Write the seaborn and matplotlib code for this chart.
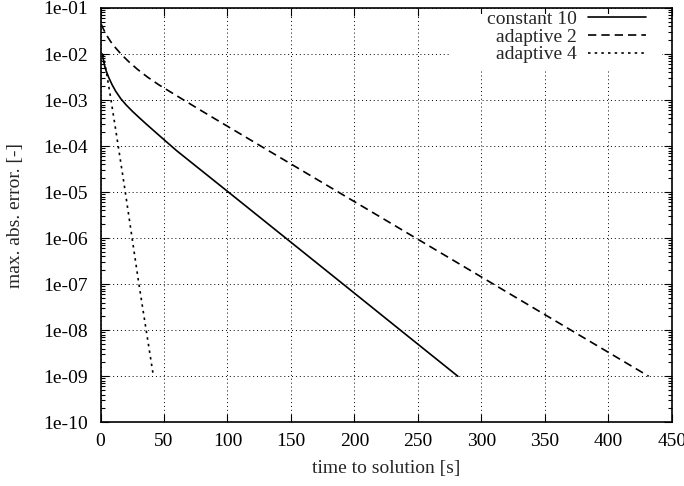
import numpy as np
import pandas as pd
import matplotlib
matplotlib.use("Agg")
import matplotlib.pyplot as plt
import seaborn as sns
from matplotlib.ticker import FuncFormatter, LogLocator, NullLocator
from matplotlib.patches import Rectangle

# ---- data ----
const10_t = [1.5, 2.2, 3.2, 4.5, 6.5, 9.0, 12.0, 16.0, 20.0, 25.0, 30.0, 36.0, 43.0, 50.0, 60.0,
             100.8, 146.0, 191.2, 236.3, 281.5]
const10_err = [1.0e-2, 7.59e-3, 5.62e-3, 4.27e-3, 3.09e-3, 2.19e-3, 1.55e-3, 1.07e-3, 7.94e-4,
               5.75e-4, 4.27e-4, 3.02e-4, 2.04e-4, 1.38e-4, 7.94e-5,
               1.0e-5, 1.0e-6, 1.0e-7, 1.0e-8, 1.0e-9]

adapt2_t = [0.5, 2.5, 5.0, 8.0, 12.0, 16.5, 22.0, 29.0, 37.0, 46.0, 56.0, 68.0, 80.0, 95.8,
            126.3, 187.4, 248.5, 309.6, 370.7, 431.8]
adapt2_err = [4.47e-2, 3.39e-2, 2.51e-2, 1.86e-2, 1.35e-2, 9.77e-3, 6.92e-3, 4.68e-3, 3.16e-3,
              2.14e-3, 1.45e-3, 9.12e-4, 5.75e-4, 3.16e-4,
              1.0e-4, 1.0e-5, 1.0e-6, 1.0e-7, 1.0e-8, 1.0e-9]

adapt4_t = [2.0, 5.0, 8.0, 12.0, 19.0, 30.0, 41.7]
adapt4_err = [1.0e-2, 3.55e-3, 1.12e-3, 2.24e-4, 1.26e-5, 1.12e-7, 1.0e-9]

series_names = ["constant 10", "adaptive 2", "adaptive 4"]
x_ticks = [0, 50, 100, 150, 200, 250, 300, 350, 400, 450]

sns.set_style("ticks")
plt.rcParams["font.family"] = ["Liberation Serif", "DejaVu Serif"]
plt.rcParams["font.size"] = 14

fig = plt.figure(figsize=(6.84, 4.86), dpi=100)
ax = fig.add_axes([100.5 / 684, 1 - 422.3 / 486, 571.3 / 684, 414.3 / 486])

styles = ["-", (0, (5, 3)), (0, (1.5, 2.5))]
datasets = [(const10_t, const10_err), (adapt2_t, adapt2_err), (adapt4_t, adapt4_err)]
for (t, e), name, ls in zip(datasets, series_names, styles):
    df = pd.DataFrame({"t": t, "err": e})
    sns.lineplot(data=df, x="t", y="err", ax=ax, color="black", linewidth=1.2,
                 linestyle=ls, label=name, estimator=None, sort=False, zorder=3)

ax.set_yscale("log")
ax.set_ylim(1e-10, 1e-1)
ax.set_xlim(0, 450)
ax.set_xticks(x_ticks)
ax.xaxis.set_minor_locator(NullLocator())
ax.yaxis.set_major_locator(LogLocator(base=10, numticks=20))
ax.yaxis.set_minor_locator(LogLocator(base=10, subs=np.arange(2, 10), numticks=20))
ax.yaxis.set_major_formatter(FuncFormatter(lambda v, p: "1e-%02d" % int(round(-np.log10(v)))))

ax.grid(True, which="major", linestyle=(0, (1, 3)), color="black", linewidth=0.7, zorder=1)
ax.set_axisbelow(True)

ax.tick_params(which="both", direction="in", top=True, right=True, width=0.8,
               labelsize=14, color="black", labelcolor="black")
ax.tick_params(which="major", length=6)
ax.tick_params(which="minor", length=3)
ax.tick_params(axis="y", pad=9)
ax.tick_params(axis="x", pad=8)
for s in ax.spines.values():
    s.set_visible(True)
    s.set_color("black")
    s.set_linewidth(1.2)
    s.set_zorder(10)

ax.set_xlabel("time to solution [s]", fontsize=14, labelpad=7)
ax.set_ylabel("max. abs. error. [-]", fontsize=14, labelpad=14)

# white key box hiding the grid
ax.add_patch(Rectangle((0.612, 0.850), 0.371, 0.1355, transform=ax.transAxes,
                       facecolor="white", edgecolor="none", zorder=2))

leg = ax.legend(loc="upper right", bbox_to_anchor=(0.976, 1.022), frameon=False,
                markerfirst=False, handlelength=3.0, handletextpad=0.6,
                labelspacing=0.0, borderpad=0.1, fontsize=14)

fig.savefig("out.png", dpi=100)
